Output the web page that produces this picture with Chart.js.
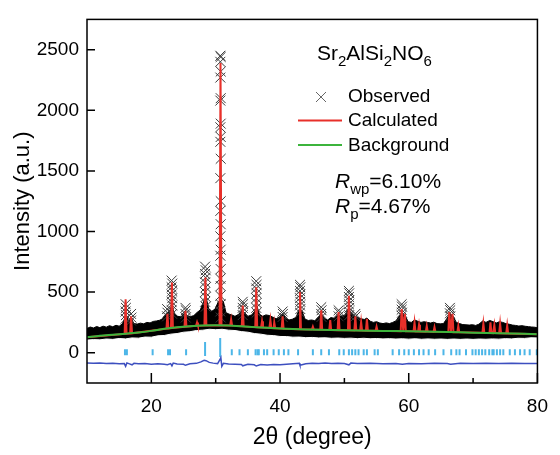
<!DOCTYPE html>
<html>
<head>
<meta charset="utf-8">
<script src="https://cdn.jsdelivr.net/npm/chart.js@4.4.1/dist/chart.umd.min.js"></script>
<style>
  html, body { margin: 0; padding: 0; background: #fff; }
</style>
</head>
<body>
<canvas id="xrd" width="560" height="455"></canvas>
<script>
// axis ticks
const xTicks = [20, 40, 60, 80];
const xMinor = [30, 50, 70];
const yTicks = [0, 500, 1000, 1500, 2000, 2500];

// observed pattern: upper / lower edge of the noisy black band
const obsTop = [
  [10,200],[10.5,212],[11,204],[11.5,216],[12,207],[12.5,219],[13,211],[13.5,223],[14,214],[14.5,226],
  [15,219],[15.5,238],[15.9,290],[16.1,300],[16.5,262],[16.9,280],[17.3,240],[17.8,236],[18.3,244],[18.8,238],
  [19.3,250],[19.8,246],[20.3,258],[20.8,262],[21.3,268],[21.8,282],[22.4,330],[22.8,340],[23.2,390],[23.6,320],
  [24.1,300],[24.6,296],[25.2,330],[25.6,305],[26.1,298],[26.6,306],[27.1,332],[27.6,352],[28.1,420],[28.5,460],
  [28.9,365],[29.4,342],[29.9,360],[30.4,420],[30.8,440],[31.2,420],[31.6,330],[32.1,318],[32.5,312],[33,300],
  [33.6,318],[34.1,352],[34.5,330],[35,300],[35.6,312],[36.1,345],[36.4,385],[36.8,318],[37.3,300],[37.8,312],
  [38.4,306],[38.9,292],[39.4,280],[39.9,296],[40.4,322],[40.9,282],[41.4,270],[41.9,276],[42.5,292],[43,360],
  [43.4,345],[43.9,276],[44.4,266],[44.9,270],[45.4,264],[45.9,290],[46.4,322],[46.9,282],[47.4,270],[47.9,290],
  [48.4,284],[49,312],[49.5,300],[50.1,312],[50.6,362],[51,332],[51.6,302],[52.1,290],[52.6,280],[53.1,274],
  [53.5,286],[54,260],[54.5,250],[55,256],[55.5,245],[56,240],[56.5,246],[57,240],[57.5,250],[58,262],
  [58.5,300],[58.9,332],[59.4,312],[59.9,256],[60.4,250],[60.9,270],[61.4,260],[61.9,250],[62.4,256],[62.9,250],
  [63.4,245],[63.9,252],[64.4,240],[64.9,238],[65.4,240],[65.9,280],[66.4,322],[66.9,300],[67.4,250],[67.9,240],
  [68.4,232],[68.9,230],[69.4,228],[69.9,231],[70.4,225],[70.9,235],[71.5,262],[72,250],[72.6,266],[73.1,256],
  [73.6,245],[74.1,256],[74.6,250],[75.1,240],[75.6,235],[76.1,228],[76.6,225],[77.1,220],[77.6,223],[78.1,218],
  [78.6,215],[79.1,212],[79.6,210],[80,205]
];
const obsLow = [
  [10,104],[11,108],[12,106],[13,113],[14,110],[15,117],[16,114],[17,122],[18,120],[19,129],[20,128],
  [21,139],[22,142],[23,153],[24,158],[25,169],[26,173],[27,183],[28,186],[29,193],[30,190],[31,193],
  [32,186],[33,183],[34,174],[35,169],[36,158],[37,153],[38,144],[39,141],[40,134],[41,133],[42,128],
  [43,129],[44,124],[45,126],[46,122],[47,123],[48,119],[49,121],[50,118],[51,120],[52,116],[53,119],
  [54,115],[55,117],[56,114],[57,116],[58,113],[59,115],[60,112],[61,115],[62,111],[63,114],[64,111],
  [65,113],[66,110],[67,113],[68,110],[69,113],[70,110],[71,113],[72,111],[73,114],[74,112],[75,116],
  [76,114],[77,119],[78,118],[79,123],[80,122]
];
// observed points on the peaks (crosses)
const obsPeaks = [
  [30.72,2450],[30.78,2440],[30.72,2400],[30.78,2320],[30.72,2270],[30.78,2100],[30.72,2080],[30.78,1890],
  [30.72,1860],[30.78,1780],[30.72,1740],[30.78,1600],[30.72,1440],[30.78,1250],[30.72,1170],[30.78,1060],
  [30.72,960],[30.78,850],[30.72,800],[30.78,690],[30.72,610],[30.78,550],[30.72,470],[30.78,400],[30.72,340],[30.78,290],
  [28.35,710],[28.45,680],[28.35,650],[28.45,620],[28.35,580],[28.45,540],[28.35,500],[28.45,460],[28.35,420],[28.45,380],
  [16.0,400],[16.05,370],[16.0,340],[16.05,310],[16.0,280],
  [16.85,320],[16.9,290],[16.85,265],
  [22.45,360],[22.5,330],[22.45,300],
  [23.15,595],[23.25,570],[23.15,540],[23.25,510],[23.15,480],[23.25,450],[23.15,420],[23.25,390],[23.15,350],[23.25,320],
  [25.3,370],[25.35,350],[25.3,320],[25.35,290],
  [34.2,420],[34.25,400],[34.2,370],[34.25,340],[34.2,310],
  [36.3,590],[36.35,560],[36.3,530],[36.35,490],[36.3,450],[36.35,410],[36.3,370],[36.35,330],
  [40.4,340],[40.45,320],[40.4,295],
  [43.1,560],[43.15,540],[43.1,510],[43.15,480],[43.1,450],[43.15,420],[43.1,390],[43.15,360],[43.1,330],
  [46.4,375],[46.45,350],[46.4,320],[46.45,295],
  [49.1,350],[49.15,330],[49.1,300],
  [50.7,510],[50.75,490],[50.7,460],[50.75,430],[50.7,400],[50.75,370],[50.7,340],[50.75,310],
  [51.7,320],[51.75,300],
  [58.9,400],[58.95,380],[58.9,355],[58.95,330],[58.9,305],
  [66.4,370],[66.45,350],[66.4,325],[66.45,300]
];
// calculated profile
const calc = [
  [10,128],[15.85,155],[16.0,440],[16.15,156],[16.7,158],[16.85,300],[17.0,160],
  [22.35,198],[22.5,320],[22.65,199],[23.05,203],[23.2,580],[23.35,204],
  [25.15,214],[25.3,345],[25.45,215],[26.95,222],[27.1,250],[27.25,222],
  [28.25,224],[28.4,620],[28.55,225],[30.6,227],[30.75,2390],[30.9,227],
  [32.25,224],[32.4,275],[32.55,223],[34.05,218],[34.2,390],[34.35,217],
  [36.15,211],[36.3,540],[36.45,210],[37.05,208],[37.2,260],[37.35,207],
  [38.35,204],[38.5,270],[38.65,203],[39.0,202],[39.1,250],[39.25,201],
  [40.25,199],[40.4,300],[40.55,198],[42.95,194],[43.1,500],[43.25,194],
  [44.95,191],[45.1,215],[45.25,191],[46.25,189],[46.4,350],[46.55,189],
  [47.65,188],[47.8,270],[47.95,187],[48.95,186],[49.1,335],[49.25,186],
  [50.55,185],[50.7,470],[50.85,185],[51.55,184],[51.7,300],[51.85,184],
  [52.45,183],[52.6,255],[52.75,183],[53.35,182],[53.5,280],[53.65,182],
  [54.85,181],[55.0,215],[55.15,181],[58.75,177],[58.9,360],[59.15,177],[59.4,320],[59.55,176],
  [60.75,176],[60.9,250],[61.05,175],[61.45,175],[61.6,230],[61.75,175],
  [62.65,174],[62.8,220],[62.95,174],[63.85,172],[64.0,210],[64.15,172],
  [66.15,170],[66.3,335],[66.55,170],[66.8,320],[66.95,169],[67.55,169],[67.7,220],[67.85,169],
  [71.45,164],[71.6,240],[71.75,164],[72.55,163],[72.7,250],[72.85,163],[73.1,162],[73.3,230],[73.45,162],
  [74.05,161],[74.2,240],[74.35,161],[75.15,159],[75.3,225],[75.45,159],[80,153]
];
// refined background
const background = [
  [10,128],[12,140],[14,148],[16,156],[18,166],[20,180],[22,197],[24,210],[26,219],[28,225],[30,227],
  [32,224],[34,218],[36,211],[38,205],[40,199],[44,192],[48,187],[52,183],[56,180],[60,176],[64,172],
  [68,168],[72,163],[76,158],[80,153]
];
// difference (obs - calc), offset
const diff = [
  [10,-84],[11,-88],[12,-86],[13,-90],[14,-88],[15,-91],[15.8,-90],[16,-112],[16.2,-84],[16.6,-92],[17,-100],
  [17.3,-88],[18,-92],[19,-90],[20,-95],[21,-92],[22,-96],[22.5,-100],[23,-90],[23.2,-108],[23.4,-86],[24,-94],
  [25,-96],[25.3,-104],[26,-92],[27,-88],[27.7,-76],[28.2,-62],[28.5,-66],[29,-80],[29.6,-86],[30.3,-90],
  [30.65,-58],[30.8,-40],[30.95,-112],[31.2,-88],[32,-94],[33,-96],[34,-98],[34.2,-108],[35,-96],[36,-100],
  [36.3,-110],[37,-98],[38,-102],[39,-98],[40,-100],[41,-95],[42,-92],[43,-88],[43.1,-104],[44,-92],[45,-88],
  [46,-90],[47,-86],[48,-90],[49,-88],[50,-90],[50.7,-100],[51,-86],[52,-90],[54,-88],[56,-92],[58,-90],
  [59,-96],[60,-90],[62,-92],[64,-88],[66,-90],[66.5,-96],[68,-88],[70,-90],[72,-88],[74,-90],[76,-88],
  [78,-90],[80,-89]
];
// Bragg reflection positions
const braggX = [15.9,16.2,20.2,22.6,22.9,25.4,32.5,33.7,35.0,36.2,36.5,36.7,37.5,38.0,39.0,39.8,40.6,41.3,
  42.8,45.1,46.4,47.6,49.2,49.9,50.7,51.2,51.7,52.2,53.0,53.5,54.7,55.2,57.5,58.5,59.3,60.0,60.8,61.6,62.3,
  63.1,64.1,65.4,66.6,67.4,67.9,68.9,69.9,70.4,70.9,71.4,71.9,72.5,73.0,73.2,73.7,74.2,74.7,75.7,76.5,77.3,
  78.0,78.8,79.9];
const braggY = 4;
const braggBig = [[28.35,30],[30.7,42]];

const pts = arr => arr.map(p => ({ x: p[0], y: p[1] }));
const FONT = '"Liberation Sans", Arial, sans-serif';

const framePlugin = {
  id: 'frame',
  afterDatasetsDraw(chart) {
    const { ctx, chartArea: a, scales: { x, y } } = chart;
    ctx.save();
    ctx.strokeStyle = '#000';
    ctx.lineWidth = 1.5;
    ctx.strokeRect(a.left, a.top, a.right - a.left, a.bottom - a.top);
    ctx.beginPath();
    xTicks.forEach(v => { const p = x.getPixelForValue(v); ctx.moveTo(p, a.bottom); ctx.lineTo(p, a.bottom - 10); });
    xMinor.forEach(v => { const p = x.getPixelForValue(v); ctx.moveTo(p, a.bottom); ctx.lineTo(p, a.bottom - 5); });
    yTicks.forEach(v => { const p = y.getPixelForValue(v); ctx.moveTo(a.left, p); ctx.lineTo(a.left + 8, p); });
    ctx.stroke();
    ctx.restore();
  }
};

function rich(ctx, parts, x, y, size) {
  let cx = x;
  parts.forEach(p => {
    const fs = p.sub ? Math.round(size * 0.7) : size;
    ctx.font = (p.it ? 'italic ' : '') + fs + 'px ' + FONT;
    ctx.fillText(p.t, cx, y + (p.sub ? size * 0.3 : 0));
    cx += ctx.measureText(p.t).width;
  });
}

const notesPlugin = {
  id: 'notes',
  afterDatasetsDraw(chart) {
    const ctx = chart.ctx;
    ctx.save();
    ctx.fillStyle = '#000';
    ctx.textBaseline = 'alphabetic';
    rich(ctx, [{ t: 'Sr' }, { t: '2', sub: true }, { t: 'AlSi' }, { t: '2', sub: true }, { t: 'NO' }, { t: '6', sub: true }], 317, 60, 21);
    // legend
    ctx.strokeStyle = '#666';
    ctx.lineWidth = 1;
    ctx.beginPath();
    ctx.moveTo(316, 92); ctx.lineTo(326, 102);
    ctx.moveTo(326, 92); ctx.lineTo(316, 102);
    ctx.stroke();
    ctx.lineWidth = 2;
    ctx.strokeStyle = '#e8302a';
    ctx.beginPath(); ctx.moveTo(298, 120.5); ctx.lineTo(342, 120.5); ctx.stroke();
    ctx.strokeStyle = '#3cb43c';
    ctx.beginPath(); ctx.moveTo(298, 145); ctx.lineTo(342, 145); ctx.stroke();
    rich(ctx, [{ t: 'Observed' }], 348, 102, 19);
    rich(ctx, [{ t: 'Calculated' }], 348, 126, 19);
    rich(ctx, [{ t: 'Background' }], 348, 151, 19);
    rich(ctx, [{ t: 'R', it: true }, { t: 'wp', sub: true }, { t: '=6.10%' }], 335, 188, 21);
    rich(ctx, [{ t: 'R', it: true }, { t: 'p', sub: true }, { t: '=4.67%' }], 335, 213, 21);
    ctx.restore();
  }
};

new Chart(document.getElementById('xrd'), {
  type: 'scatter',
  data: {
    datasets: [
      { label: 'band', data: pts(obsTop), showLine: true, borderColor: '#000', borderWidth: 1,
        pointRadius: 0, fill: 'start', backgroundColor: '#000', order: 10 },
      { label: 'bandLow', data: pts(obsLow), showLine: true, borderColor: '#fff', borderWidth: 1,
        pointRadius: 0, fill: 'start', backgroundColor: '#fff', order: 9 },
      { label: 'Bragg', data: braggX.map(v => ({ x: v, y: braggY })), pointStyle: 'line', rotation: 90,
        pointRadius: 3, borderColor: '#4cb6e8', borderWidth: 2, order: 8 },
      { label: 'Bragg2', data: pts(braggBig), pointStyle: 'line', rotation: 90,
        pointRadius: [7, 9.5], borderColor: '#4cb6e8', borderWidth: 2, order: 8 },
      { label: 'Difference', data: pts(diff), showLine: true, borderColor: '#3d4fbf', borderWidth: 1.5,
        pointRadius: 0, order: 7 },
      { label: 'Observed', data: pts(obsPeaks), pointStyle: 'crossRot', pointRadius: 7,
        borderColor: '#3a3a3a', borderWidth: 1, order: 6 },
      { label: 'Calculated', data: pts(calc), showLine: true, borderColor: '#e8302a', borderWidth: 2,
        pointRadius: 0, order: 5 },
      { label: 'Background', data: pts(background), showLine: true, borderColor: '#3cb43c', borderWidth: 2,
        pointRadius: 0, tension: 0.3, order: 4 }
    ]
  },
  options: {
    responsive: false,
    animation: false,
    layout: { padding: { top: 9, right: 12, left: 0, bottom: 0 } },
    plugins: { legend: { display: false }, tooltip: { enabled: false } },
    scales: {
      x: {
        type: 'linear', min: 10, max: 80,
        afterBuildTicks: s => { s.ticks = xTicks.map(v => ({ value: v })); },
        afterFit: s => { s.height = 72; },
        grid: { display: false, drawTicks: false },
        border: { display: false },
        ticks: { color: '#000', padding: 12, font: { family: FONT, size: 19 }, callback: v => String(v) },
        title: { display: true, text: '2θ (degree)', color: '#000', padding: { top: 0, bottom: 4 },
          font: { family: FONT, size: 23 } }
      },
      y: {
        type: 'linear', min: -250, max: 2750,
        afterBuildTicks: s => { s.ticks = yTicks.map(v => ({ value: v })); },
        afterFit: s => { s.width = 87; },
        grid: { display: false, drawTicks: false },
        border: { display: false },
        ticks: { color: '#000', padding: 8, font: { family: FONT, size: 19 }, callback: v => String(v) },
        title: { display: true, text: 'Intensity (a.u.)', color: '#000', padding: { top: 10, bottom: 0 },
          font: { family: FONT, size: 22 } }
      }
    }
  },
  plugins: [framePlugin, notesPlugin]
});
</script>
</body>
</html>
